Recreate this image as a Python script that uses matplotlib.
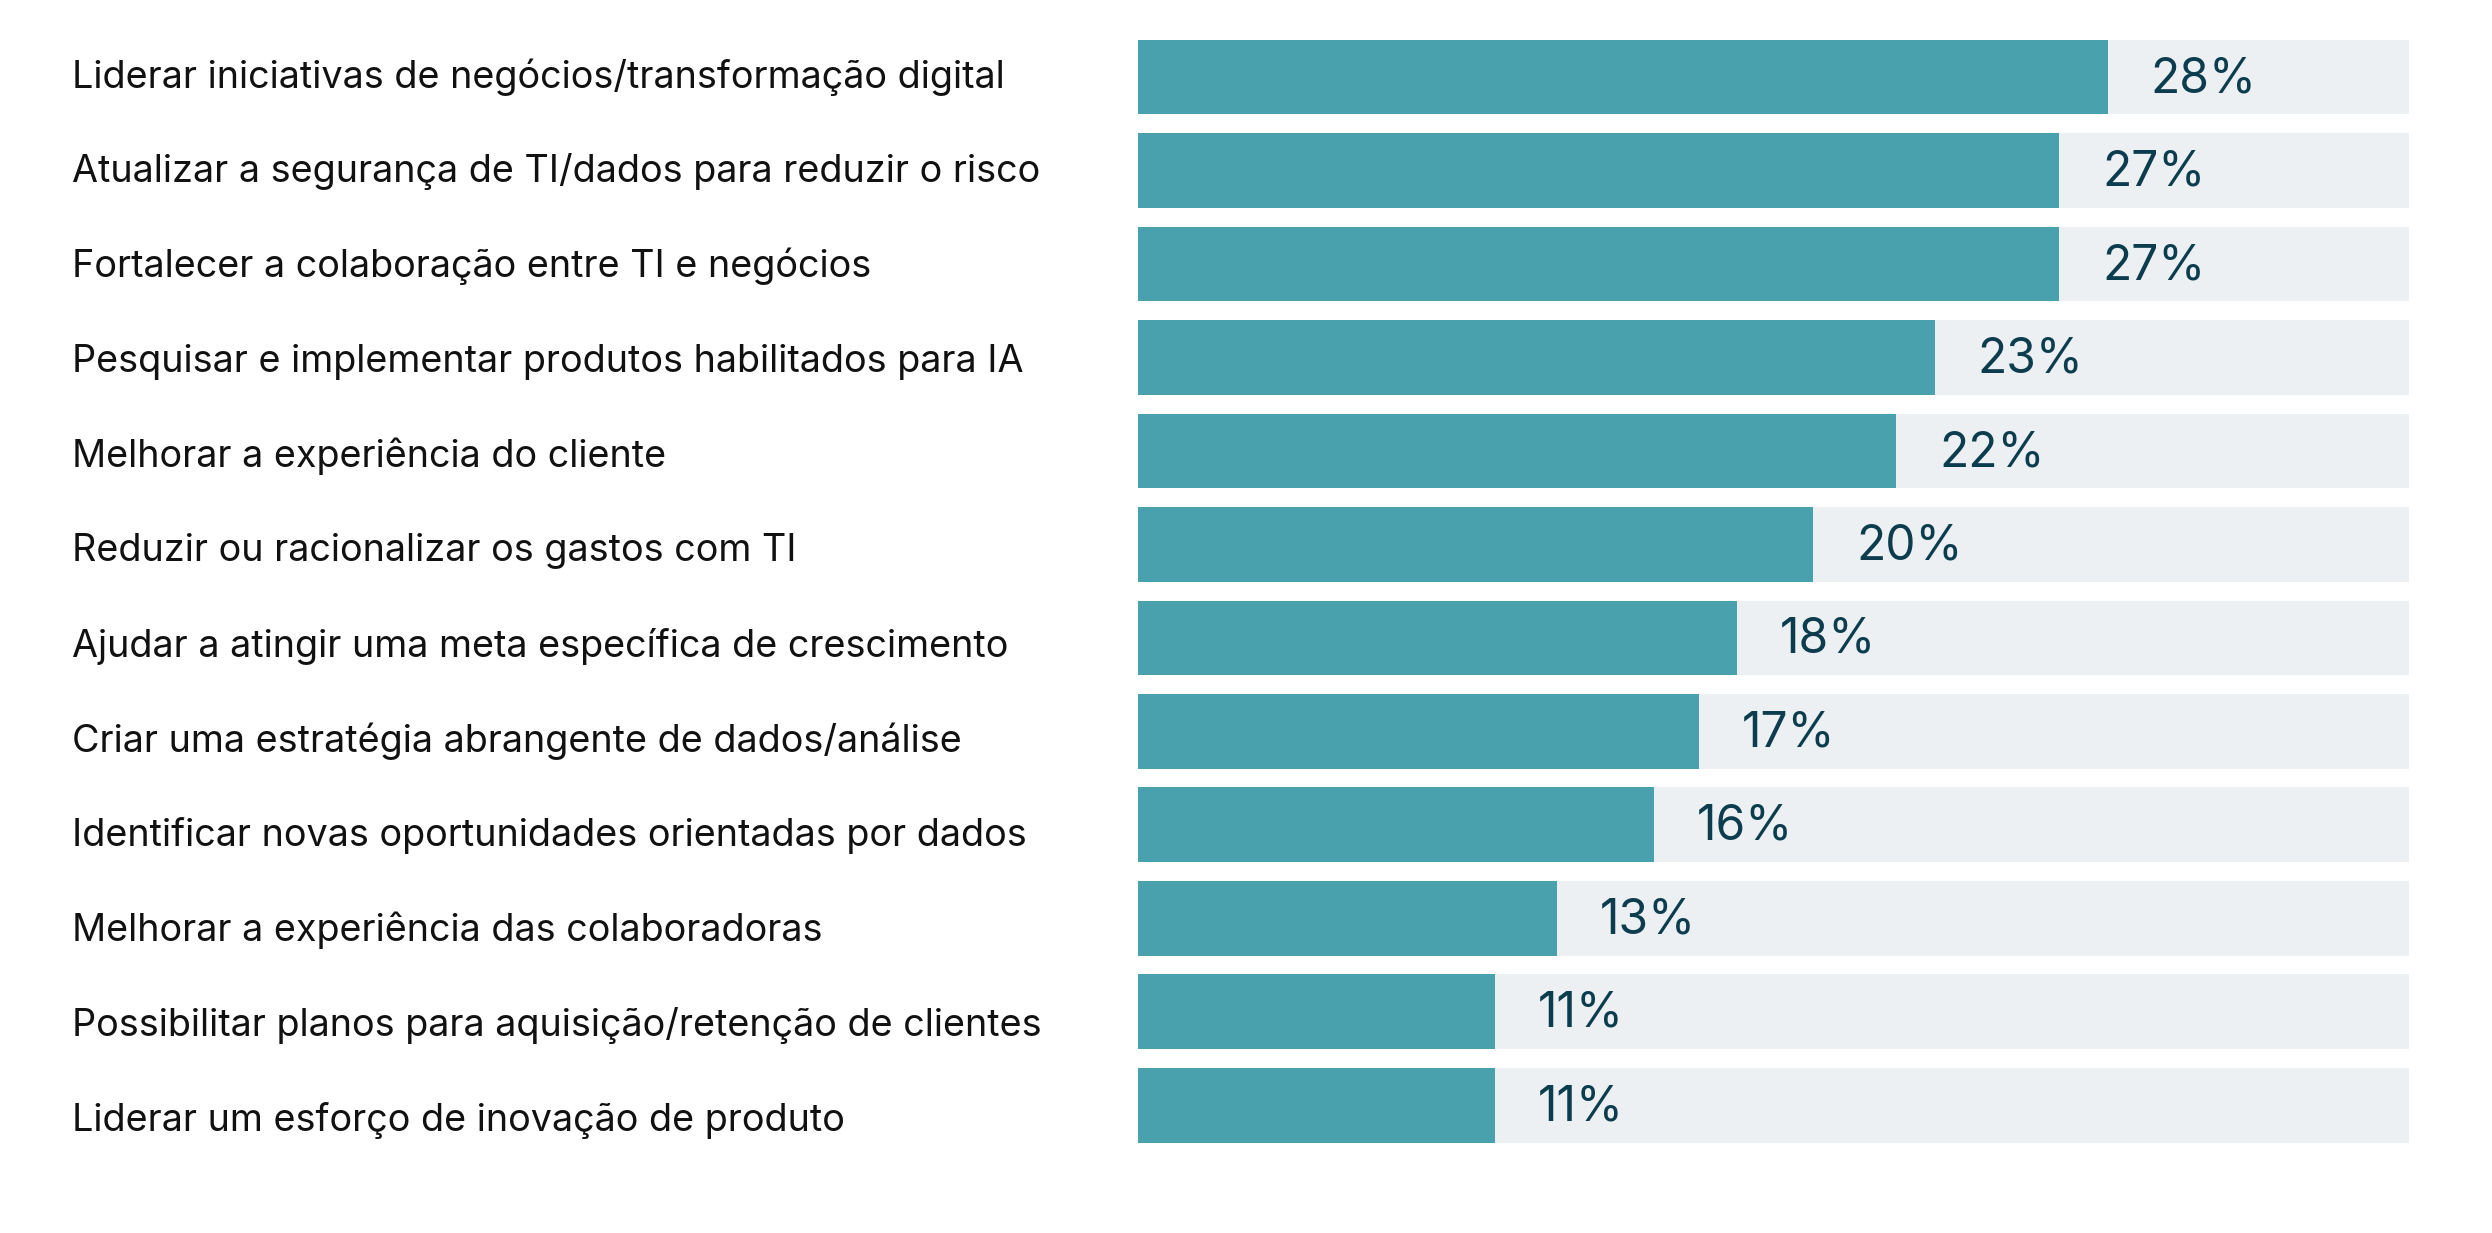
import matplotlib
matplotlib.use("Agg")
import matplotlib.pyplot as plt
import matplotlib.transforms as mtransforms

# categories, top to bottom
categories = [
    "Liderar iniciativas de negócios/transformação digital",
    "Atualizar a segurança de TI/dados para reduzir o risco",
    "Fortalecer a colaboração entre TI e negócios",
    "Pesquisar e implementar produtos habilitados para IA",
    "Melhorar a experiência do cliente",
    "Reduzir ou racionalizar os gastos com TI",
    "Ajudar a atingir uma meta específica de crescimento",
    "Criar uma estratégia abrangente de dados/análise",
    "Identificar novas oportunidades orientadas por dados",
    "Melhorar a experiência das colaboradoras",
    "Possibilitar planos para aquisição/retenção de clientes",
    "Liderar um esforço de inovação de produto",
]
# bar lengths (percent)
shares = [28.0, 26.6, 26.6, 23.0, 21.9, 19.5, 17.3, 16.2, 14.9, 12.1, 10.3, 10.3]
# printed labels
pct_labels = ["28%", "27%", "27%", "23%", "22%", "20%", "18%", "17%", "16%", "13%", "11%", "11%"]
track_max = 36.7

plt.rcParams['font.family'] = ['Inter', 'DejaVu Sans']

fig = plt.figure(figsize=(24.92, 12.33), dpi=100)
ax = fig.add_axes([0.4567, 0.0733, 0.51, 0.8945])

y = list(range(len(categories)))
ax.barh(y, [track_max] * len(y), height=0.8, color="#EDF0F3", zorder=1)
ax.barh(y, shares, height=0.8, color="#49A1AE", zorder=2)

for yi, v, lab in zip(y, shares, pct_labels):
    ax.annotate(lab, (v, yi), xytext=(31, -1.5), textcoords="offset points",
                ha="left", va="center", fontsize=34.5, color="#0C3D4F", zorder=3)

# category labels sit at the left edge of the figure, spaced a bit wider than the bars
trans = mtransforms.blended_transform_factory(fig.transFigure, ax.transData)
for yi, cat in zip(y, categories):
    ax.text(0.0287, yi * 1.0145, cat, transform=trans, ha="left",
            va="center", fontsize=27.2, color="#111111")

ax.set_xlim(0, track_max)
ax.set_ylim(len(y) - 0.6, -0.4)
ax.axis("off")

fig.savefig("out.png", dpi=100)
